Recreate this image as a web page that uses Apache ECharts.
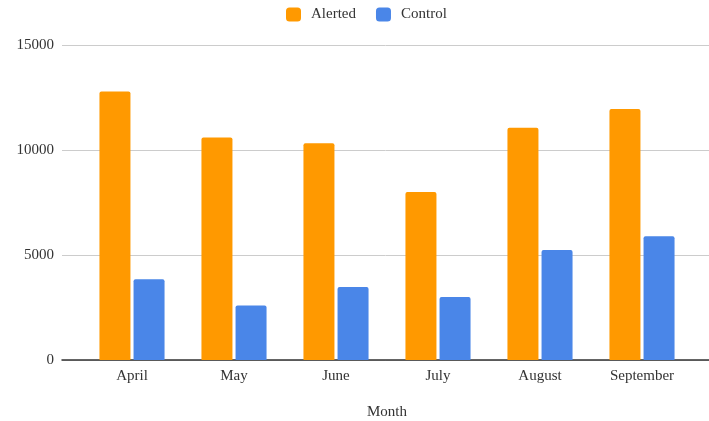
<!DOCTYPE html>
<html>
<head>
<meta charset="utf-8">
<script src="https://cdn.jsdelivr.net/npm/echarts@6/dist/echarts.min.js"></script>
<style>
  html, body { margin: 0; padding: 0; background: #fff; }
  #chart { width: 709px; height: 421px; }
</style>
</head>
<body>
<div id="chart"></div>
<script>
// Monthly counts for the two groups
const months = ['April', 'May', 'June', 'July', 'August', 'September'];
const alerted = [12780, 10600, 10320, 8000, 11060, 11950];
const control = [3840, 2590, 3480, 3000, 5240, 5890];
const yTicks = { min: 0, max: 15000, step: 5000 };

const FONT = '"Liberation Serif", "DejaVu Serif", serif';
const TEXT = '#333';
const chart = echarts.init(document.getElementById('chart'));

chart.setOption({
  animation: false,
  textStyle: { fontFamily: FONT },
  legend: {
    top: 2,
    left: 281,
    itemWidth: 15,
    itemHeight: 14,
    itemGap: 20,
    icon: 'roundRect',
    textStyle: { fontFamily: FONT, fontSize: 15, color: TEXT, padding: [0, 0, 0, 5] },
    data: ['Alerted', 'Control']
  },
  grid: [
    // outer frame: gridlines and baseline span the full width
    { left: 62, right: 0, top: 45, bottom: 61, outerBoundsMode: 'none', containLabel: false },
    // inner band area for the bars
    { left: 81, right: 16, top: 45, bottom: 61, outerBoundsMode: 'none', containLabel: false }
  ],
  xAxis: [
    {
      gridIndex: 0, type: 'category', data: [''],
      axisLine: { show: true, lineStyle: { color: '#333', width: 1.5 } },
      axisTick: { show: false }, axisLabel: { show: false }
    },
    {
      gridIndex: 1, type: 'category', data: months,
      name: 'Month', nameLocation: 'middle', nameGap: 45,
      nameTextStyle: { fontFamily: FONT, fontSize: 15, color: TEXT },
      axisLine: { show: false }, axisTick: { show: false },
      axisLabel: { fontFamily: FONT, fontSize: 15, color: TEXT, margin: 9 }
    }
  ],
  yAxis: [
    {
      gridIndex: 0, type: 'value',
      min: yTicks.min, max: yTicks.max, interval: yTicks.step,
      axisLine: { show: false }, axisTick: { show: false },
      axisLabel: { fontFamily: FONT, fontSize: 15, color: TEXT, margin: 8,
                   formatter: v => String(v) },
      splitLine: { lineStyle: { color: '#cccccc', width: 1 } }
    },
    {
      gridIndex: 1, type: 'value',
      min: yTicks.min, max: yTicks.max, interval: yTicks.step,
      show: false, splitLine: { show: false }
    }
  ],
  series: [
    {
      name: 'Alerted', type: 'bar', xAxisIndex: 1, yAxisIndex: 1,
      data: alerted, barWidth: 31, barGap: '10%',
      itemStyle: { color: '#ff9900', borderRadius: [2, 2, 0, 0] }
    },
    {
      name: 'Control', type: 'bar', xAxisIndex: 1, yAxisIndex: 1,
      data: control, barWidth: 31, barGap: '10%',
      itemStyle: { color: '#4a86e8', borderRadius: [2, 2, 0, 0] }
    }
  ]
});
</script>
</body>
</html>
